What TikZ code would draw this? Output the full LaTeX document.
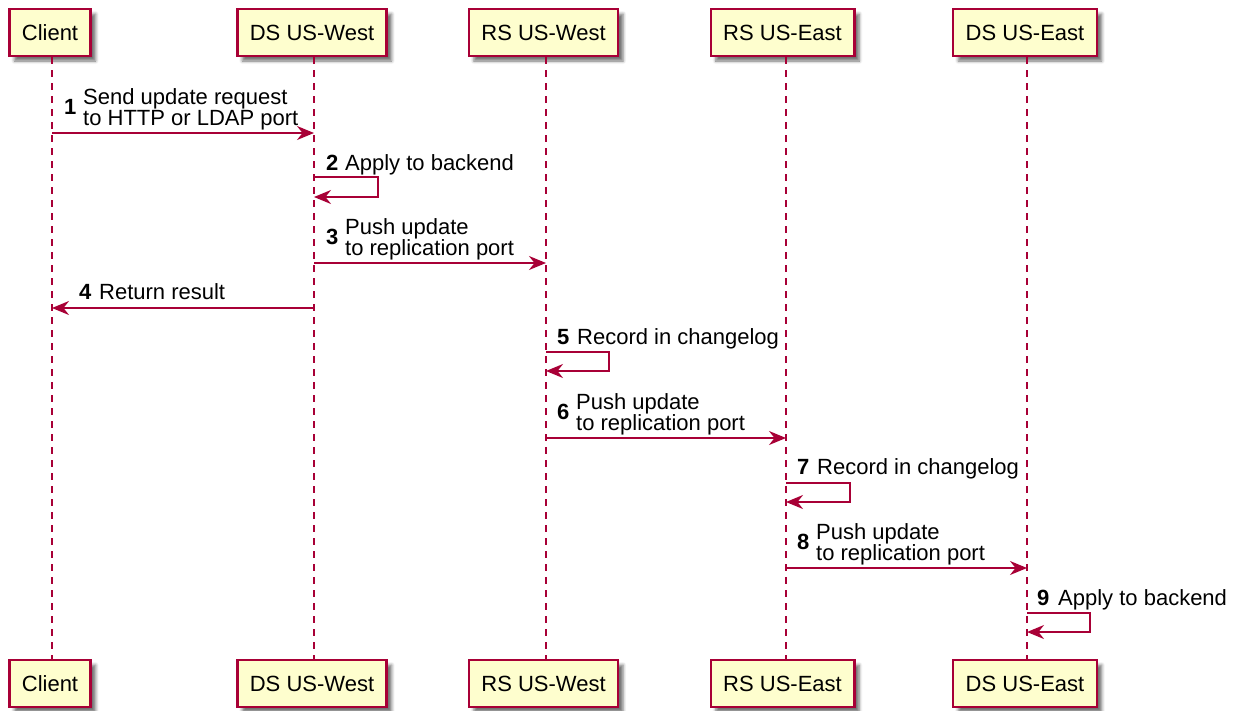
\documentclass[tikz,border=0pt]{standalone}
\usepackage{fontspec}
\setmainfont{Liberation Sans}
\usetikzlibrary{arrows.meta,shadows.blur}

\definecolor{umlborder}{HTML}{A80036}
\definecolor{umlfill}{HTML}{FEFECE}

\tikzset{
  actorbox/.style={draw=umlborder, line width=2.4pt, fill=umlfill,
    minimum height=47pt, inner xsep=12.5pt, inner ysep=0pt,
    font=\fontsize{22}{26}\selectfont,
    blur shadow={shadow xshift=5pt, shadow yshift=-5pt,
      shadow blur radius=3pt, shadow opacity=55}},
  lifeline/.style={draw=umlborder, line width=1.4pt, dash pattern=on 7pt off 6pt},
  msg/.style={draw=umlborder, line width=1.5pt,
    -{Stealth[length=17pt, width=14pt, inset=5.5pt]}},
  msgtext/.style={anchor=base west, inner sep=0pt, font=\fontsize{22}{26}\selectfont},
  msgnum/.style={anchor=base west, inner sep=0pt, font=\fontsize{22}{26}\selectfont\bfseries},
}

\begin{document}
\begin{tikzpicture}[x=1pt, y=-1pt]
\useasboundingbox (0,0) rectangle (1245,710);

% lifeline positions
\coordinate (xC)  at (52,0);
\coordinate (xDW) at (314,0);
\coordinate (xRW) at (546,0);
\coordinate (xRE) at (786,0);
\coordinate (xDE) at (1027,0);

% participants, top and bottom
\foreach \n/\x/\t in {C/50/Client, DW/312/DS US-West, RW/543.5/RS US-West,
                      RE/782.5/RS US-East, DE/1025/DS US-East}{
  \node[actorbox] (\n top) at (\x,32.5) {\t};
  \node[actorbox] (\n bot) at (\x,683.5) {\t};
}

% lifelines
\foreach \n in {C,DW,RW,RE,DE}{
  \draw[lifeline] (\n top.south -| x\n) -- (\n bot.north -| x\n);
}

% 1: Client -> DS US-West
\coordinate (a1) at (52,133);
\coordinate (b1) at (314,133);
\draw[msg] (a1) -- (b1);
\node[msgnum]  (n1)  at (64,114) {1};
\node[msgtext] (t1a) at (83,104) {Send update request};
\node[msgtext] (t1b) at (83,125) {to HTTP or LDAP port};

% 2: DS US-West self
\coordinate (a2) at (314,177);
\coordinate (b2) at (314,197);
\draw[msg] (a2) -- ++(64,0) |- (b2);
\node[msgnum]  (n2) at (326,170) {2};
\node[msgtext] (t2) at (345,170) {Apply to backend};

% 3: DS US-West -> RS US-West
\coordinate (a3) at (314,263);
\coordinate (b3) at (546,263);
\draw[msg] (a3) -- (b3);
\node[msgnum]  (n3)  at (326,244) {3};
\node[msgtext] (t3a) at (345,234) {Push update};
\node[msgtext] (t3b) at (345,255) {to replication port};

% 4: DS US-West -> Client
\coordinate (a4) at (314,308);
\coordinate (b4) at (52,308);
\draw[msg] (a4) -- (b4);
\node[msgnum]  (n4) at (79,299) {4};
\node[msgtext] (t4) at (99,299) {Return result};

% 5: RS US-West self
\coordinate (a5) at (546,352);
\coordinate (b5) at (546,371);
\draw[msg] (a5) -- ++(63,0) |- (b5);
\node[msgnum]  (n5) at (557,344) {5};
\node[msgtext] (t5) at (577,344) {Record in changelog};

% 6: RS US-West -> RS US-East
\coordinate (a6) at (546,438);
\coordinate (b6) at (786,438);
\draw[msg] (a6) -- (b6);
\node[msgnum]  (n6)  at (557,419) {6};
\node[msgtext] (t6a) at (576,409) {Push update};
\node[msgtext] (t6b) at (576,430) {to replication port};

% 7: RS US-East self
\coordinate (a7) at (786,483);
\coordinate (b7) at (786,502);
\draw[msg] (a7) -- ++(64,0) |- (b7);
\node[msgnum]  (n7) at (797,474) {7};
\node[msgtext] (t7) at (817,474) {Record in changelog};

% 8: RS US-East -> DS US-East
\coordinate (a8) at (786,568);
\coordinate (b8) at (1027,568);
\draw[msg] (a8) -- (b8);
\node[msgnum]  (n8)  at (797,549) {8};
\node[msgtext] (t8a) at (816,539) {Push update};
\node[msgtext] (t8b) at (816,560) {to replication port};

% 9: DS US-East self
\coordinate (a9) at (1027,613);
\coordinate (b9) at (1027,632);
\draw[msg] (a9) -- ++(63,0) |- (b9);
\node[msgnum]  (n9) at (1037,605) {9};
\node[msgtext] (t9) at (1058,605) {Apply to backend};
\end{tikzpicture}
\end{document}
